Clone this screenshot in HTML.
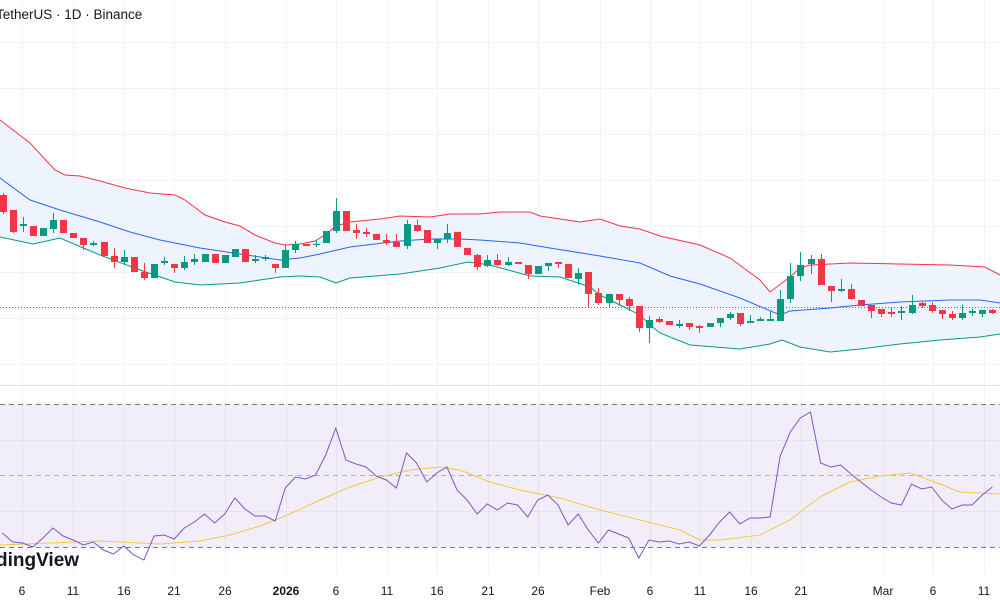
<!DOCTYPE html>
<html><head><meta charset="utf-8"><style>
html,body{margin:0;padding:0;background:#fff;width:1000px;height:600px;overflow:hidden}
svg{display:block;font-family:"Liberation Sans",sans-serif}
</style></head><body>
<svg id="s" width="1000" height="600" viewBox="0 0 1000 600">
<g id="grid" stroke="#f0f3fa" stroke-width="1"></g>
<path id="band" fill="#eef4fe" stroke="none"/>
<polyline id="up" fill="none" stroke="#f23645" stroke-width="1"/>
<polyline id="mid" fill="none" stroke="#2962ff" stroke-width="1"/>
<polyline id="lo" fill="none" stroke="#089981" stroke-width="1"/>
<line x1="0" y1="307.5" x2="1000" y2="307.5" stroke="#089981" stroke-width="1" stroke-dasharray="1,2"/>
<g id="candles"></g>
<line x1="0" y1="385.5" x2="1000" y2="385.5" stroke="#e0e3eb"/>
<rect x="0" y="404" width="1000" height="143" fill="#7e57c2" fill-opacity="0.1"/>
<line x1="0" y1="404.5" x2="1000" y2="404.5" stroke="#787b86" stroke-dasharray="5,4"/>
<line x1="0" y1="475.5" x2="1000" y2="475.5" stroke="#9598a1" stroke-dasharray="5,4" stroke-opacity="0.7"/>
<line x1="0" y1="547.5" x2="1000" y2="547.5" stroke="#787b86" stroke-dasharray="5,4"/>
<polyline id="ma" fill="none" stroke="#f7c843" stroke-width="1"/>
<polyline id="rsi" fill="none" stroke="#7e57c2" stroke-width="1"/>
<text x="-4" y="19" font-size="13.5" fill="#131722">TetherUS · 1D · Binance</text>
<text x="-4" y="566" font-size="19" font-weight="bold" fill="#131722">dingView</text>
<g font-size="12" fill="#131722" text-anchor="middle">
<text x="22" y="595">6</text><text x="73" y="595">11</text><text x="124" y="595">16</text><text x="174" y="595">21</text><text x="225" y="595">26</text>
<text x="286" y="595" font-weight="bold">2026</text><text x="336" y="595">6</text><text x="387" y="595">11</text><text x="437" y="595">16</text><text x="488" y="595">21</text><text x="538" y="595">26</text>
<text x="600" y="595">Feb</text><text x="650" y="595">6</text><text x="700" y="595">11</text><text x="751" y="595">16</text><text x="801" y="595">21</text>
<text x="883" y="595">Mar</text><text x="933" y="595">6</text><text x="984" y="595">11</text>
</g>
</svg>
<script>
var NS="http://www.w3.org/2000/svg";
function el(t,a,p){var e=document.createElementNS(NS,t);for(var k in a)e.setAttribute(k,a[k]);p.appendChild(e);return e;}
var g=document.getElementById("grid");
[42,88,134,180,226,272,318,364,440,511].forEach(function(y){el("line",{x1:0,x2:1000,y1:y+.5,y2:y+.5},g)});
[22,73,124,174,225,286,336,387,437,488,538,600,650,700,751,801,883,933,984].forEach(function(x){el("line",{x1:x+.5,x2:x+.5,y1:0,y2:575},g)});
function pts(a){var s=[];for(var i=0;i<a.length;i+=2)s.push(a[i]+","+a[i+1]);return s.join(" ");}
var up=[0,120,30,143,55,170,65,175,80,176,100,181,125,188,150,193,175,195,185,200,205,215,225,222,240,226,255,235,275,243,285,245,300,244,315,241,325,235,336,226,350,222,380,219,400,216,430,217,450,214,480,214,500,212,530,212,540,216,560,219,580,222,600,219,620,226,640,229,660,236,700,245,730,258,760,280,770,292,790,277,800,268,810,265,850,263,900,264,950,265,985,267,1000,275];
var mid=[0,178,30,200,60,210,100,222,130,232,160,240,200,248,240,254,280,260,300,258,320,254,350,247,400,241,430,239,460,239,480,240,520,243,550,248,600,256,640,263,670,276,700,284,740,298,780,315,790,311,830,308,860,305,900,302,950,300,980,300,1000,303];
var lo=[0,237,33,244,60,238,100,255,140,270,175,282,200,285,240,283,280,277,300,276,320,277,336,283,350,278,400,274,440,268,468,262,490,265,530,276,560,277,590,287,600,295,610,300,620,305,640,315,650,325,660,333,690,345,740,349,770,344,782,340,800,347,830,352,860,349,900,344,940,340,980,337,1000,334];
document.getElementById("up").setAttribute("points",pts(up));
document.getElementById("mid").setAttribute("points",pts(mid));
document.getElementById("lo").setAttribute("points",pts(lo));
var d="M";for(var i=0;i<up.length;i+=2)d+=up[i]+","+up[i+1]+" L";
var r=[];for(var i=lo.length-2;i>=0;i-=2)r.push(lo[i]+","+lo[i+1]);
d+=r.join(" L")+" Z";document.getElementById("band").setAttribute("d",d);
var C=[["r",195,212,193,214],["r",210,232,210,233],["g",224,226,217,232],["r",226,236,226,236],["g",228,236,228,236],["g",220,229,213,233],["r",220,233,220,233],["r",233,238,233,238],["r",238,245,238,250],["g",243,245,241,246],
["r",242,256,242,256],["r",256,262,248,268],["g",257,262,250,265],["r",257,272,257,272],["r",272,278,263,280],["g",264,278,264,278],["g",261,263,257,265],["r",264,268,264,273],["g",262,268,256,270],["g",259,262,254,265],
["g",254,262,254,262],["r",254,263,254,263],["g",255,263,255,263],["g",249,257,249,257],["r",249,262,249,262],["g",259,261,255,263],["g",257,259,255,261],["r",264,268,264,273],["g",250,268,245,268],["g",244,250,241,253],
["r",244,246,244,246],["g",244,245,240,247],["g",231,243,231,243],["g",211,231,198,233],["r",211,231,211,231],["r",230,233,224,239],["r",232,234,228,237],["r",234,240,234,240],["r",240,243,234,245],["r",242,247,234,247],
["g",224,246,220,249],["r",225,231,220,232],["r",230,243,230,243],["g",239,243,239,249],["g",233,239,224,243],["r",232,247,232,247],["r",248,255,248,255],["r",255,267,254,270],["g",260,266,255,267],["r",260,265,254,266],
["g",262,265,257,266],["r",262,264,262,264],["r",265,274,265,279],["g",266,274,266,274],["g",263,266,263,271],["r",262,264,262,268],["r",264,278,264,278],["g",273,279,268,285],["r",272,294,272,307],["r",293,303,288,305],
["g",294,303,294,307],["r",294,300,294,306],["r",299,306,297,311],["r",306,328,306,332],["g",320,328,316,343],["r",319,322,317,323],["r",321,325,321,325],["g",324,326,320,328],["r",323,327,323,330],["r",326,328,325,333],
["g",323,327,323,327],["g",318,323,318,327],["g",314,318,312,320],["r",313,324,313,326],["g",321,323,315,323],["g",319,321,317,321],["g",319,321,311,321],["g",299,321,290,321],["g",276,299,263,303],["g",265,276,252,281],
["g",259,264,255,274],["r",259,285,254,285],["r",286,291,286,302],["g",289,291,279,292],["r",289,299,284,300],["r",300,306,300,306],["r",305,311,305,318],["r",309,314,309,317],["r",312,314,307,317],["g",311,313,306,320],
["g",305,313,295,314],["r",303,306,302,308],["r",305,311,302,313],["r",310,314,310,319],["r",314,318,311,320],["g",313,318,305,320],["g",311,313,309,316],["g",310,314,310,317],["r",310,313,309,314]];
var cg=document.getElementById("candles");
C.forEach(function(c,i){var x=Math.round(2.5+10.1*i);var col=c[0]=="g"?"#089981":"#f23645";
el("rect",{x:x,y:c[3],width:1,height:Math.max(1,c[4]-c[3]),fill:col},cg);
el("rect",{x:x-3,y:c[1],width:7,height:Math.max(1,c[2]-c[1]),fill:col},cg);});
var R=[533,542,543,547,538,528,536,540,545,542,550,554,546,555,560,536,535,539,528,522,514,523,514,498,509,516,516,521,488,477,479,475,455,428,460,464,467,476,480,488,453,463,482,473,467,490,500,514,504,510,503,505,517,500,495,505,525,514,530,543,530,534,538,558,540,542,541,544,542,546,535,522,512,524,518,518,517,456,432,418,412,463,467,465,474,482,490,497,503,505,484,489,487,500,509,505,505,495,487];
var rp=[];R.forEach(function(y,i){rp.push((2.5+10.1*i).toFixed(1)+","+y)});
document.getElementById("rsi").setAttribute("points",rp.join(" "));
var MA=[0,545,50,543,100,541,140,543,160,544,200,541,230,535,260,526,290,514,320,500,350,487,380,477,410,470,440,467,460,470,490,482,520,490,560,498,600,510,640,520,680,530,700,540,720,540,760,535,790,520,820,497,850,482,880,476,910,473,940,484,960,492,1000,494];
document.getElementById("ma").setAttribute("points",pts(MA));
</script>
</body></html>
